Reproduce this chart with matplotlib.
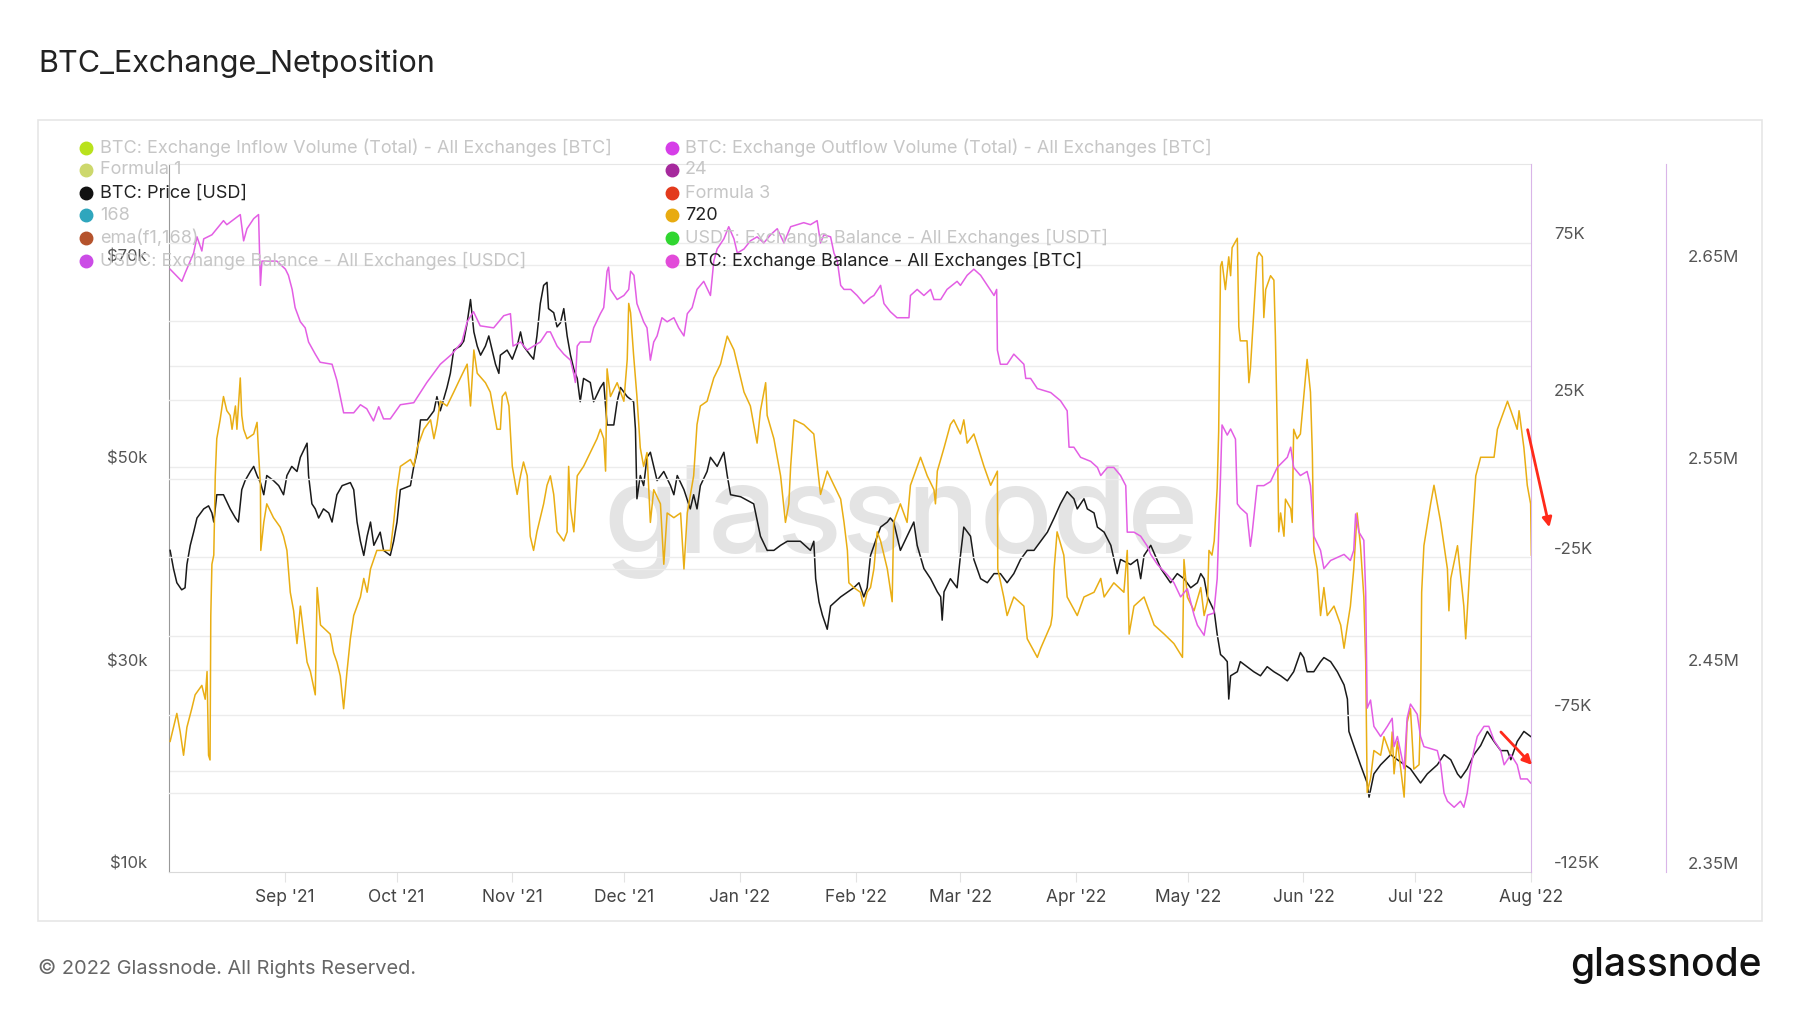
import numpy as np
import matplotlib
matplotlib.use("Agg")
import matplotlib.pyplot as plt
from matplotlib.lines import Line2D
from matplotlib.patches import Rectangle
from matplotlib.transforms import ScaledTranslation, blended_transform_factory

plt.rcParams['font.family'] = ['Inter', 'DejaVu Sans']

# ---- data (days since 2021-08-01) ----
START = np.datetime64('2021-08-01T00:00')

price_day = [0.3, 1.2, 2.1, 3.4, 4.3, 4.8, 5.7, 6.6, 7.5, 9.3, 10.6, 11.5, 12, 12.8, 14.6, 15.5, 16.4, 17.8, 18.6,
             19.5, 20.4, 21.8, 22.7, 23.6, 24.5, 25.4, 26.2, 28, 29.4, 30.7, 31.6, 32.9, 34.3, 35.2, 37, 37.4, 38.3,
             39.2, 40.1, 41.4, 42.8, 43.7, 45, 46.4, 48.6, 49.5, 50.4, 51.3, 52.2, 53.1, 54, 54.9, 56.6, 57.5, 59.3,
             60.2, 61.1, 62, 64.7, 65.6, 66.5, 67.4, 69.2, 71, 71.8, 72.7, 74.5, 75.4, 76.3, 78.1, 79, 79.9, 80.8,
             81.7, 82.6, 83.5, 84.8, 85.7, 86.6, 87.5, 88.4, 88.8, 90.6, 92, 93.3, 94.2, 95.0, 96.8, 97.7, 98.6,
             99.5, 100.4, 101.3, 101.7, 103.1, 104, 104.9, 105.8, 106.7, 107.6, 108.5, 109.4, 110.2, 111.1, 112.9,
             113.8, 115.6, 116.5, 117.4, 119.2, 120.1, 121, 122.8, 124.5, 125, 125.4, 126.3, 127.2, 128.1, 129,
             130.8, 132.6, 134.4, 135.3, 136.2, 138, 139.7, 140.6, 141.5, 142.4, 144.2, 145.1, 146.9, 148.7, 149.6,
             150.5, 153.2, 156.7, 158.5, 160.3, 162.1, 163.9, 165.7, 169.2, 171.9, 172.8, 173.3, 174.2, 175.1,
             176.4, 177.3, 180, 183.5, 184.9, 186.2, 187.1, 188, 189.8, 190.7, 192.5, 193.3, 194.2, 196, 197.8,
             199.6, 200.5, 202.3, 204.1, 205.9, 206.8, 207.2, 207.7, 209.4, 211.2, 212.1, 213, 214.8, 215.7, 217.5,
             219.3, 221.1, 222.8, 224.6, 226.4, 228.2, 230, 231.8, 233.6, 235.4, 237.2, 238.9, 240.7, 242.5, 243.4,
             245.2, 246.1, 247.9, 248.8, 250.6, 252.4, 254.1, 255, 257.7, 259.5, 260.4, 261.3, 263.1, 265.8, 268.4,
             270.2, 272, 273.8, 275.6, 276.5, 277.4, 278.3, 280.1, 280.9, 281.8, 282.7, 283.6, 284, 284.5, 286.3,
             287.1, 288.9, 290.7, 292.5, 294.3, 296.1, 297.9, 299.7, 301.4, 303.2, 304.1, 305, 306.8, 308.6, 309.5,
             311.3, 313.1, 314.9, 315.8, 316.2, 317.5, 319.3, 321.1, 321.6, 322.9, 324.7, 327.4, 329.2, 332.7, 335.4,
             337.2, 339.9, 341.7, 343.5, 345.3, 346.2, 347.9, 349.7, 351.5, 353.3, 355.1, 356.9, 358.7, 359.6, 361.3,
             363.1, 364.9]
price_k = [41.8, 40.0, 38.6, 37.9, 38.1, 40.4, 42.3, 43.6, 45.0, 45.9, 46.2, 45.5, 44.6, 47.3, 47.3, 46.6, 45.9, 45.0,
           44.6, 47.8, 48.7, 49.6, 50.1, 49.2, 48.5, 47.3, 49.2, 48.7, 48.2, 47.3, 49.2, 50.1, 49.6, 51.0, 52.4, 49.2,
           46.4, 45.9, 45.0, 45.9, 45.5, 44.6, 47.3, 48.2, 48.5, 47.8, 44.6, 42.7, 41.3, 43.2, 44.6, 42.3, 43.6, 41.8,
           41.3, 42.7, 44.6, 47.8, 48.2, 50.1, 51.5, 54.7, 54.7, 55.6, 57.0, 55.6, 57.9, 59.3, 61.6, 62.0, 62.5, 64.3,
           66.6, 63.4, 62.0, 61.1, 62.0, 63.0, 61.6, 60.2, 59.3, 61.1, 61.6, 60.7, 62.0, 63.4, 62.0, 61.1, 60.7, 63.0,
           66.2, 68.0, 68.3, 65.7, 65.3, 63.9, 64.3, 65.7, 63.0, 61.1, 59.7, 58.8, 56.5, 58.8, 58.4, 56.5, 57.9, 58.4,
           54.2, 54.2, 56.5, 57.9, 57.0, 56.5, 53.8, 46.9, 49.2, 48.2, 51.0, 51.5, 48.7, 49.6, 48.2, 47.3, 49.2, 47.8,
           45.9, 47.3, 45.9, 48.2, 49.6, 51.0, 50.1, 51.5, 49.2, 47.3, 47.1, 46.4, 43.2, 41.8, 41.8, 42.3, 42.7, 42.7,
           41.8, 42.7, 39.0, 36.7, 35.4, 34.0, 36.3, 37.2, 38.1, 38.6, 37.2, 38.1, 41.3, 43.2, 44.1, 44.6, 45.0, 44.6,
           41.8, 43.2, 44.6, 42.3, 40.0, 39.0, 37.7, 37.2, 34.9, 37.7, 39.0, 38.1, 41.3, 44.1, 43.2, 40.9, 39.0, 38.6,
           39.5, 39.5, 38.6, 39.5, 40.9, 41.8, 41.8, 42.7, 43.6, 45.0, 46.4, 47.6, 46.9, 45.9, 46.9, 45.9, 45.5, 44.1,
           43.6, 42.3, 39.5, 40.9, 40.4, 40.9, 39.0, 41.3, 42.3, 40.0, 38.6, 39.5, 39.0, 38.1, 38.6, 39.5, 39.0, 37.2,
           35.8, 33.5, 31.5, 31.2, 30.8, 27.1, 29.4, 29.8, 30.8, 30.3, 29.8, 29.4, 30.3, 29.8, 29.4, 28.9, 29.8, 31.7,
           31.2, 29.8, 29.8, 30.8, 31.2, 30.8, 29.8, 28.5, 27.1, 23.9, 22.5, 20.6, 18.8, 17.4, 19.7, 20.6, 21.6, 21.1,
           20.2, 18.8, 19.7, 20.6, 21.6, 21.1, 19.7, 19.3, 20.2, 21.6, 22.5, 23.9, 22.9, 22.0, 22.0, 21.1, 22.9, 23.9,
           23.4]

net_day = [0.3, 1.2, 2.1, 3, 3.9, 4.8, 6.1, 7, 8.8, 9.7, 10.2, 10.6, 11, 11.2, 11.5, 12, 12.4, 12.8, 13.7, 14.6, 15.5,
           16.4, 16.9, 17.8, 18.2, 19.1, 19.5, 20, 20.9, 22.7, 23.6, 24, 24.5, 24.6, 25.4, 26.2, 28, 29.8, 30.7, 31.6,
           32.5, 33.4, 34.3, 35.2, 36.1, 37, 37.9, 39.2, 39.7, 40.6, 43.2, 44.1, 45, 45.9, 46.8, 47.7, 48.6, 49.5,
           51.3, 52.2, 53.1, 54, 55.7, 57.5, 59.3, 60.2, 61.1, 62, 64.7, 65.6, 66.5, 68.3, 70.1, 71, 71.8, 72.7, 74.5,
           76.3, 78.1, 79.9, 80.8, 81.7, 82.6, 84.8, 86.1, 87, 87.9, 88.8, 89.3, 90.2, 91.1, 92, 93.3, 94.2, 95.0,
           96, 96.8, 97.7, 98.6, 100.4, 101.3, 102.2, 103.1, 104, 105.8, 106.7, 107.1, 107.6, 108.5, 109.4, 111.1,
           112.9, 114.7, 115.6, 116.5, 117, 117.4, 118.3, 120.1, 121.9, 122.8, 123.2, 123.7, 124.5, 125.4, 126.3,
           127.2, 128.1, 129, 129.9, 131.7, 132.6, 133.5, 135.3, 137.1, 138, 138.9, 140.6, 141.5, 142.4, 144.2, 146,
           147.8, 149.6, 151.4, 152.3, 154.1, 155.8, 157.6, 158.5, 159.9, 160.3, 162.1, 163.9, 165.2, 166.1, 166.6,
           167.5, 170.1, 172.8, 174.2, 174.6, 176.4, 178.2, 180, 180.9, 181.8, 182.2, 183.5, 185.3, 186.2, 187.1,
           188, 188.9, 189.8, 190.7, 192.5, 193.8, 194.2, 196, 197.8, 198.7, 200.5, 201.4, 203.2, 205, 205.4, 205.9,
           207.7, 209.4, 210.3, 212.1, 213, 213.9, 215.7, 218.4, 220.2, 222, 222.1, 223.7, 224.6, 226.4, 229.1, 230,
           232.7, 233.6, 236.3, 236.7, 237.2, 238.0, 239.8, 240.7, 243.4, 245.2, 247.9, 249.7, 250.6, 253.2, 255.9,
           256.8, 257.3, 258.6, 261.3, 264, 266.7, 269.3, 271.6, 272, 272.9, 274.7, 276.5, 277.4, 278.3, 278.7,
           279.5, 280.1, 280.9, 281.3, 281.8, 282.2, 283.1, 284, 284.5, 284.9, 286.3, 286.7, 287.1, 288.9, 289.4,
           289.8, 290.7, 291.6, 292.1, 293, 293.4, 293.9, 295.2, 296.1, 296.5, 297, 297.4, 297.9, 298.8, 299.2,
           300.6, 301, 301.4, 302.3, 303.2, 304.1, 305, 305.9, 306.4, 306.8, 307.7, 308.6, 309.5, 310.4, 312.2, 314,
           314.9, 315.8, 316.6, 317.5, 318.4, 319.3, 320.2, 320.7, 321.1, 322, 322.9, 324.7, 325.6, 327.4, 327.8,
           328.3, 329.2, 331, 331.8, 332.7, 333.6, 335, 335.4, 335.7, 336.3, 338.1, 339, 340.8, 342.6, 343, 343.5,
           345.3, 347, 347.5, 348.8, 350.2, 351.5, 353.3, 355.1, 356, 356.9, 358.7, 359.6, 361.3, 361.8, 363.1, 364,
           364.9, 365.1]
net_k = [-83.5, -79.0, -74.6, -80.5, -87.9, -79.0, -73.1, -68.7, -65.7, -70.1, -61.3, -87.9, -89.4, -43.5, -27.2,
         -24.3, 0.9, 12.7, 18.7, 26.1, 21.6, 20.1, 15.7, 23.1, 15.7, 32.0, 20.1, 15.7, 12.7, 14.2, 17.9, 8.3, -2.1,
         -22.8, -13.9, -8.0, -12.4, -15.4, -18.3, -22.8, -36.1, -42.0, -52.4, -40.5, -49.4, -58.3, -61.3, -68.7,
         -34.6, -46.5, -49.4, -55.3, -58.3, -62.7, -73.1, -61.3, -50.9, -43.5, -37.6, -31.7, -36.1, -28.7, -22.8,
         -22.8, -22.8, -13.9, -3.5, 3.9, 6.1, 3.9, 9.8, 15.7, 18.7, 12.7, 17.2, 24.6, 23.1, 27.5, 32.0, 36.4, 23.1,
         40.9, 33.5, 30.5, 27.5, 21.6, 15.7, 15.7, 26.1, 27.5, 23.1, 3.9, -5.0, 0.9, 5.3, 0.9, -18.3, -22.8, -16.9,
         -8.0, -2.1, 0.9, -5.0, -16.9, -19.8, -16.9, 3.9, -9.5, -16.9, 0.9, 3.9, 8.3, 12.7, 15.7, 12.7, 2.4, 34.9,
         26.1, 30.5, 24.6, 37.9, 55.7, 52.7, 39.4, 26.1, 9.8, 3.9, 8.3, -13.9, -3.5, -8.0, -27.2, -10.9, -12.4,
         -10.9, -28.7, -10.9, 0.9, 17.2, 23.1, 24.6, 32.0, 36.4, 45.3, 40.9, 36.4, 27.5, 23.1, 11.3, 21.6, 30.5,
         20.1, 12.7, 0.9, -13.9, -8.0, 3.9, 18.7, 17.2, 14.2, -0.6, -5.0, 2.4, -2.1, -6.5, -13.9, -22.8, -33.1,
         -34.6, -36.1, -40.5, -36.1, -34.6, -28.7, -16.9, -19.8, -28.7, -39.1, -13.9, -8.0, -13.9, -2.1, 3.9, 6.8,
         0.9, -3.5, -8.0, 2.4, 9.8, 17.2, 18.7, 14.2, 18.7, 11.3, 14.2, 3.9, -2.1, 2.4, -28.7, -37.6, -43.5, -37.6,
         -40.5, -50.9, -56.8, -53.9, -46.5, -43.5, -28.7, -16.9, -24.3, -37.6, -43.5, -37.6, -36.1, -31.7, -37.6,
         -33.1, -36.1, -22.8, -49.4, -40.5, -37.6, -46.5, -49.4, -52.4, -56.8, -25.7, -37.6, -42.0, -34.6, -43.5,
         -39.1, -22.8, -24.3, -19.8, -3.0, 15.0, 67.5, 69.0, 60.1, 70.5, 64.5, 73.4, 76.4, 48.3, 43.8, 43.8, 30.5,
         34.9, 52.7, 70.5, 71.9, 70.5, 51.2, 60.1, 64.5, 63.1, 45.3, 15.7, -16.9, -10.9, -18.3, -6.5, -9.5, -13.9,
         15.7, 12.7, 14.2, 26.1, 37.9, 27.5, 8.3, -22.8, -28.7, -43.5, -34.6, -43.5, -40.5, -46.5, -53.9, -46.5,
         -40.5, -28.7, -10.9, -21.3, -37.6, -58.3, -99.7, -95.3, -86.4, -87.9, -82.0, -87.9, -80.5, -93.8, -83.5,
         -101.2, -77.5, -73.1, -92.3, -90.9, -74.6, -36.1, -21.3, -8.0, -2.1, -13.9, -28.7, -42.0, -31.7, -21.3,
         -40.5, -50.9, -24.3, 0.9, 6.8, 6.8, 6.8, 15.7, 18.7, 24.6, 21.6, 15.7, 21.6, 9.8, -2.1, -8.0, -24.3]

bal_day = [0.3, 3.45, 4.3, 6.6, 7.5, 8.8, 9.3, 11.5, 14.6, 15.5, 19.1, 20, 20.9, 22.7, 24, 24.5, 24.9, 28.9, 31.2, 32,
           33, 33.8, 35.2, 36.5, 37.4, 39.2, 40.5, 43.7, 45, 46.8, 49.5, 51.3, 53, 54.8, 56.2, 57.5, 59.3, 62, 65.6,
           69.1, 72.7, 75.8, 78.5, 79.9, 81.6, 83.4, 87, 89.7, 91.5, 92.2, 94.2, 96, 97.7, 99.5, 101.3, 102.2, 104,
           105.8, 107.6, 108.5, 108.9, 109.4, 110.2, 112.9, 113.8, 115.6, 116.5, 117.4, 117.8, 118.3, 120.1, 121.9,
           123.2, 123.7, 124.6, 125.4, 127.2, 128.1, 129, 129.9, 130.8, 132.1, 133.5, 135.3, 136.6, 138, 138.9, 140.2,
           141.5, 143.3, 145.1, 146, 146.9, 148.7, 150, 151.4, 152.3, 154.1, 155.8, 157.6, 159.4, 161.2, 163, 164.8,
           166.6, 168.4, 170.1, 171.9, 173.7, 174.6, 175.5, 177.3, 178.2, 179.1, 180, 180.9, 182.7, 184.4, 186.2,
           188, 188.9, 190.7, 191.6, 193.3, 195.1, 198.3, 198.7, 200.5, 202.3, 204.1, 205, 206.8, 208.5, 211.2,
           212.1, 213.9, 215.7, 217.5, 219.3, 221.1, 221.8, 222, 222.8, 224.6, 226.4, 229.1, 229.6, 230.9, 232.7,
           236.3, 238.9, 240.7, 241.2, 242.5, 244.3, 247, 248.8, 249.7, 251.5, 253.2, 255, 256.4, 256.8, 258.6,
           260.4, 262.2, 263.1, 264.9, 267.5, 269.3, 271.1, 272.9, 274.7, 275.6, 277.4, 278.3, 280, 280.9, 281.8,
           282.2, 283.6, 284.5, 285.8, 286.3, 287.1, 288.9, 289.8, 290.3, 291.6, 293.4, 295.2, 297, 299.7, 300.6,
           301.4, 303.2, 305, 305.9, 306.8, 308.6, 309.5, 311.3, 314.9, 316.6, 317.5, 318, 318.9, 320.2, 320.7,
           321.1, 322, 322.9, 324.7, 326.5, 327.8, 328.3, 329.2, 331, 331.8, 332.7, 334.5, 335.4, 336.3, 339.9,
           340.8, 341.7, 342.6, 344.4, 346.1, 347, 347.9, 348.8, 349.7, 350.6, 352.4, 353.7, 355.1, 356.9, 357.8,
           359.6, 361.3, 362.2, 364, 364.9]
bal_k = [2648, 2642, 2646, 2656, 2664, 2657, 2663, 2665, 2672, 2670, 2675, 2662, 2668, 2673, 2675, 2640, 2652, 2652,
         2648, 2645, 2638, 2629, 2622, 2619, 2612, 2606, 2602, 2601, 2593, 2577, 2577, 2581, 2579, 2573, 2580, 2574,
         2574, 2581, 2582, 2592, 2601, 2606, 2612, 2622, 2627, 2620, 2619, 2625, 2626, 2610, 2612, 2608, 2610, 2612,
         2617, 2617, 2610, 2606, 2603, 2596, 2592, 2610, 2612, 2612, 2619, 2626, 2629, 2647, 2649, 2638, 2633, 2635,
         2638, 2647, 2645, 2631, 2622, 2619, 2603, 2612, 2615, 2624, 2622, 2624, 2619, 2615, 2626, 2629, 2638, 2642,
         2635, 2652, 2658, 2663, 2669, 2663, 2656, 2658, 2662, 2664, 2661, 2665, 2668, 2661, 2669, 2670, 2671, 2670,
         2672, 2661, 2665, 2664, 2656, 2652, 2640, 2638, 2638, 2635, 2631, 2634, 2635, 2640, 2631, 2627, 2624, 2624,
         2635, 2638, 2635, 2638, 2633, 2633, 2638, 2642, 2640, 2645, 2648, 2645, 2640, 2635, 2638, 2608, 2601, 2601,
         2606, 2601, 2594, 2594, 2589, 2587, 2583, 2578, 2560, 2560, 2555, 2553, 2550, 2546, 2550, 2550, 2546, 2541,
         2518, 2518, 2516, 2511, 2507, 2502, 2497, 2493, 2486, 2490, 2477, 2472, 2467, 2477, 2478, 2495, 2546, 2571,
         2566, 2569, 2564, 2532, 2530, 2527, 2511, 2518, 2541, 2541, 2543, 2550, 2555, 2560, 2550, 2546, 2548, 2541,
         2516, 2509, 2500, 2504, 2507, 2504, 2509, 2527, 2518, 2514, 2488, 2431, 2435, 2422, 2417, 2422, 2426, 2412,
         2417, 2401, 2426, 2433, 2428, 2417, 2412, 2410, 2403, 2389, 2385, 2382, 2385, 2382, 2389, 2401, 2410, 2417,
         2422, 2422, 2415, 2410, 2403, 2408, 2403, 2396, 2396, 2394]

month_ticks = ['2021-09-01', '2021-10-01', '2021-11-01', '2021-12-01', '2022-01-01', '2022-02-01', '2022-03-01',
               '2022-04-01', '2022-05-01', '2022-06-01', '2022-07-01', '2022-08-01']
month_labels = ["Sep '21", "Oct '21", "Nov '21", "Dec '21", "Jan '22", "Feb '22", "Mar '22",
                "Apr '22", "May '22", "Jun '22", "Jul '22", "Aug '22"]

price_ticks = [10, 30, 50, 70]
price_labels = ['$10k', '$30k', '$50k', '$70k']
price_grid = [20, 30, 40, 50, 60, 70]
net_ticks = [-125, -75, -25, 25, 75]
net_labels = ['-125K', '-75K', '-25K', '25K', '75K']
net_grid = [-100, -75, -50, -25, 0, 25, 50, 75]
bal_ticks = [2350, 2450, 2550, 2650]
bal_labels = ['2.35M', '2.45M', '2.55M', '2.65M']

legend_left = [("BTC: Exchange Inflow Volume (Total) - All Exchanges [BTC]", '#b9e21c', False),
               ("Formula 1", '#cdd86c', False),
               ("BTC: Price [USD]", '#111111', True),
               ("168", '#2fa6bd', False),
               ("ema(f1,168)", '#b5532c', False),
               ("USDC: Exchange Balance - All Exchanges [USDC]", '#cb4ce6', False)]
legend_right = [("BTC: Exchange Outflow Volume (Total) - All Exchanges [BTC]", '#d63ee8', False),
                ("24", '#a6299d', False),
                ("Formula 3", '#e33a1c', False),
                ("720", '#e8ab10', True),
                ("USDT: Exchange Balance - All Exchanges [USDT]", '#30d630', False),
                ("BTC: Exchange Balance - All Exchanges [BTC]", '#e24bd9', True)]


def to_dates(days):
    return START + (np.asarray(days) * 1440).astype('int64').astype('timedelta64[m]')


W, H = 1800, 1013
fig = plt.figure(figsize=(18, 10.13), dpi=100)
fig.patch.set_facecolor('white')

# outer panel
fig.patches.append(Rectangle((38 / W, 1 - 921 / H), (1762 - 38) / W, (921 - 120) / H, transform=fig.transFigure,
                             facecolor='none', edgecolor='#e6e6e6', linewidth=1.2, zorder=0))

fig.text(38 / W, 1 - 64 / H, 'BTC_Exchange_Netposition', fontsize=22, color='#222222', va='center', ha='left')
fig.text(38 / W, 1 - 968 / H, '\u00a9 2022 Glassnode. All Rights Reserved.', fontsize=14.4, color='#666666',
         va='center', ha='left')
fig.text(1762 / W, 1 - 965 / H, 'glassnode', fontsize=28, color='#111111', va='center', ha='right',
         fontweight='medium')

left, right, top, bottom = 169, 1531, 164, 872
ax = fig.add_axes([left / W, 1 - bottom / H, (right - left) / W, (bottom - top) / H])
ax2 = ax.twinx()
ax3 = ax.twinx()

xmin, xmax = to_dates([0, 365])
ax.set_xlim(xmin, xmax)

ax.text(0.5375, 0.494, 'glassnode', transform=ax.transAxes, fontsize=87, color='#e4e4e4', ha='center',
        va='center', fontweight='medium', zorder=0)

ax.plot(to_dates(price_day), price_k, color='#1a1a1a', lw=1.1, zorder=3)
ax2.plot(to_dates(net_day), net_k, color='#e9ae14', lw=1.1, zorder=3)
ax3.plot(to_dates(bal_day), bal_k, color='#e35ee4', lw=1.1, zorder=3)

ax.set_ylim(10, 80)
ax2.set_ylim(-125, 100)
ax3.set_ylim(2350, 2700)

for a in (ax, ax2, ax3):
    a.set_yticks([])
ax.set_yticks(price_grid)
ax.yaxis.grid(True, color='#ececec', lw=1)
ax.tick_params(axis='y', length=0, labelleft=False)
ax2.set_yticks(net_grid)
ax2.yaxis.grid(True, color='#ececec', lw=1, zorder=0)
ax2.tick_params(axis='y', length=0, labelright=False)
ax.set_axisbelow(True)
ax2.set_axisbelow(True)

# x axis
ax.set_xticks(np.array(month_ticks, dtype='datetime64[D]'))
ax.set_xticklabels(month_labels)
ax.tick_params(axis='x', length=7, color='#e3e3e3', labelsize=12.5, labelcolor='#444444', pad=5)

# spines
ax.spines['right'].set_visible(False)
ax.spines['left'].set_color('#999999')
ax.spines['bottom'].set_color('#d9d9d9')
ax.spines['top'].set_color('#e6e6e6')
for s in ('left', 'top', 'bottom'):
    ax2.spines[s].set_visible(False)
    ax3.spines[s].set_visible(False)
ax2.spines['right'].set_color('#d9b5e8')
ax3.spines['right'].set_color('#d9b5e8')
ax3.spines['right'].set_position(('axes', (1666 - left) / (right - left)))

# tick labels sit a little above their grid lines
up = ScaledTranslation(0, 8 / 100, fig.dpi_scale_trans)
tr = blended_transform_factory(ax.transAxes, ax.transData) + up
for v, lab in zip(price_ticks, price_labels):
    ax.text(-22 / (right - left), v, lab, transform=tr, ha='right', va='center', fontsize=12, color='#555555')
tr2 = blended_transform_factory(ax2.transAxes, ax2.transData) + up
for v, lab in zip(net_ticks, net_labels):
    ax2.text(1 + 23 / (right - left), v, lab, transform=tr2, ha='left', va='center', fontsize=12, color='#555555')
tr3 = blended_transform_factory(ax3.transAxes, ax3.transData) + up
for v, lab in zip(bal_ticks, bal_labels):
    ax3.text((1688 - left) / (right - left), v, lab, transform=tr3, ha='left', va='center', fontsize=12.2,
             color='#555555')

# legend
rows = [148, 170, 193, 215, 238, 261]
for col, (dx, tx) in zip((legend_left, legend_right), ((86, 100), (672, 685))):
    for (name, c, active), ry in zip(col, rows):
        fig.add_artist(Line2D([dx / W], [1 - ry / H], marker='o', markersize=9, color=c, linestyle='none',
                              transform=fig.transFigure, zorder=10))
        fig.text(tx / W, 1 - ry / H, name, fontsize=13, color='#222222' if active else '#c6c6c6',
                 va='center', ha='left', zorder=10)

# red arrows
for (x0, y0), (x1, y1) in (((1527, 427), (1550, 530)), ((1499, 730), (1534, 767))):
    fig.add_artist(matplotlib.patches.FancyArrowPatch((x0 / W, 1 - y0 / H), (x1 / W, 1 - y1 / H),
                                                      transform=fig.transFigure, arrowstyle='-|>',
                                                      mutation_scale=14, color='#ff2a1a', lw=2, zorder=11))

fig.savefig('out.png', dpi=100, facecolor='white')
